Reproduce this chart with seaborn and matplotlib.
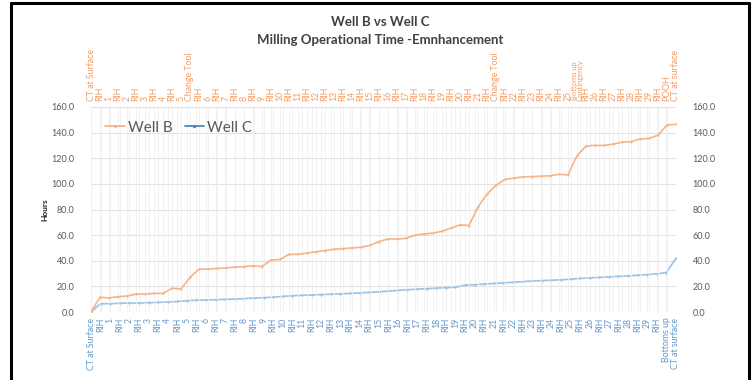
import matplotlib
matplotlib.use("Agg")
import matplotlib.pyplot as plt
from matplotlib.lines import Line2D
import pandas as pd
import seaborn as sns

# Well B operation steps (top axis) and cumulative hours
well_b_steps = [
    "CT at Surface",
    "RIH", "1", "RIH", "2", "RIH", "3", "RIH", "4", "RIH", "5",
    "Change Tool",
    "RIH", "6", "RIH", "7", "RIH", "8", "RIH", "9", "RIH", "10",
    "RIH", "11", "RIH", "12", "RIH", "13", "RIH", "14", "RIH", "15",
    "RIH", "16", "RIH", "17", "RIH", "18", "RIH", "19", "RIH", "20",
    "RIH", "21",
    "RIH", "Change Tool",
    "RIH", "22", "RIH", "23", "RIH", "24", "RIH", "25",
    "Bottoms up\nContingency",
    "RIH", "26", "RIH", "27", "RIH", "28", "RIH", "29",
    "RIH", "POOH", "CT at surface",
]
well_b_hours = [
    0, 11.5, 11, 12, 12.5, 14, 14, 14.5, 14.5, 18.5,
    18, 27, 33.5, 33.5, 34, 34.5, 35, 35.5, 36, 35.5,
    40.5, 41, 45, 45, 46, 47, 48, 49, 49.5, 50,
    50.5, 52, 55, 57, 57, 57.5, 60, 61, 61.5, 63,
    65.5, 68, 67.5, 82, 92, 99, 103.5, 104.5, 105.5, 105.7,
    106, 106.3, 107.5, 107, 122, 129.5, 130, 130, 131, 132.5,
    133, 135, 135.5, 138, 146, 146.5,
]

# Well C operation steps (bottom axis) and cumulative hours
well_c_steps = [
    "CT at Surface",
    "RIH", "1", "RIH", "2", "RIH", "3", "RIH", "4", "RIH", "5",
    "RIH", "6", "RIH", "7", "RIH", "8", "RIH", "9", "RIH", "10",
    "RIH", "11", "RIH", "12", "RIH", "13", "RIH", "14", "RIH", "15",
    "RIH", "16", "RIH", "17", "RIH", "18", "RIH", "19", "RIH", "20",
    "RIH", "21", "RIH", "22", "RIH", "23", "RIH", "24", "RIH", "25",
    "RIH", "26", "RIH", "27", "RIH", "28", "RIH", "29",
    "RIH", "Bottoms up", "CT at surface",
]
well_c_hours = [
    0, 6.5, 6.5, 6.8, 7, 7, 7.3, 7.5, 7.8, 8.2,
    8.8, 9.2, 9.4, 9.6, 9.8, 10.1, 10.5, 10.9, 11.2, 11.6,
    12.2, 12.7, 13.0, 13.3, 13.6, 13.9, 14.2, 14.5, 14.9, 15.3,
    15.8, 16.3, 16.9, 17.4, 17.8, 18.2, 18.6, 19.0, 19.3, 21.0,
    21.3, 21.8, 22.3, 22.7, 23.2, 23.7, 24.2, 24.5, 24.8, 25.1,
    25.6, 26.2, 26.6, 27.0, 27.4, 27.8, 28.2, 28.7, 29.2, 29.8,
    30.8, 42.0,
]

y_ticks = [0, 20, 40, 60, 80, 100, 120, 140, 160]

ORANGE = "#F5B48C"
ORANGE_TXT = "#F29B62"
BLUE = "#9CC2E5"
BLUE_TXT = "#5F97CF"
GREY_TXT = "#595959"

sns.set_theme(style="white")
plt.rcParams["font.family"] = ["Lato", "DejaVu Sans"]

df_b = pd.DataFrame({"step": range(len(well_b_hours)), "hours": well_b_hours})
df_c = pd.DataFrame({"step": range(len(well_c_hours)), "hours": well_c_hours})

fig = plt.figure(figsize=(7.54, 3.8), dpi=100)
fig.patch.set_facecolor("white")

# plot area
ax = fig.add_axes([91 / 754, 1 - 312 / 380, 585 / 754, 205 / 380])
sns.lineplot(data=df_c, x="step", y="hours", ax=ax, color=BLUE, lw=1.2,
             marker="o", markersize=1.6, markeredgewidth=0, label="Well C")
ax.set_xlim(0, len(well_c_hours) - 1)
ax.set_ylim(0, 160)
ax.set_xticks(range(len(well_c_steps)))
ax.set_xticklabels(well_c_steps, rotation=90, fontsize=6.3, color=BLUE_TXT)
ax.set_yticks(y_ticks)
ax.set_yticklabels([f"{v:.1f}" for v in y_ticks], fontsize=6.5, color=GREY_TXT)
ax.tick_params(axis="both", length=0, pad=4)
ax.tick_params(axis="y", labelright=True, pad=12)
ax.set_xlabel("")
ax.set_ylabel("Hours", fontsize=6, fontweight="bold", color="#222222", labelpad=2)
ax.grid(axis="y", color="#e2e2e2", lw=0.8)
ax.grid(axis="x", color="#efefef", lw=0.6)
for s in ax.spines.values():
    s.set_visible(False)

axb = ax.twiny()
sns.lineplot(data=df_b, x="step", y="hours", ax=axb, color=ORANGE, lw=1.2,
             marker="o", markersize=1.6, markeredgewidth=0, label="Well B")
axb.set_xlim(0, len(well_b_hours) - 1)
axb.set_xticks(range(len(well_b_steps)))
axb.set_xticklabels(well_b_steps, rotation=90, fontsize=6.3, color=ORANGE_TXT)
for lbl in axb.get_xticklabels():
    if "\n" in lbl.get_text():
        lbl.set_fontsize(5.4)
        lbl.set_linespacing(0.8)
axb.tick_params(axis="x", length=0, pad=4)
axb.set_xlabel("")
axb.grid(axis="x", color="#efefef", lw=0.6)
for s in axb.spines.values():
    s.set_visible(False)

ax.get_legend().remove()
axb.get_legend().remove()
handles = [
    Line2D([], [], color=ORANGE, lw=1.3, marker="o", markersize=2.5, markeredgewidth=0),
    Line2D([], [], color="#4F86B5", lw=1.3, marker="o", markersize=2.5, markeredgewidth=0),
]
axb.legend(handles, ["Well B", "Well C"], loc="upper left", bbox_to_anchor=(0.0, 1.0),
           ncol=2, frameon=False, fontsize=11, labelcolor=GREY_TXT,
           handlelength=1.3, handletextpad=0.2, columnspacing=0.8)

# titles
fig.text(0.504, 1 - 22 / 380, "Well B vs Well C", ha="center", va="center",
         fontsize=9.5, fontweight="bold", color="#404040")
fig.text(0.504, 1 - 40 / 380, "Milling Operational Time -Emnhancement", ha="center",
         va="center", fontsize=9.5, fontweight="bold", color="#404040")

# frame
fig.add_artist(Line2D([11 / 754, 11 / 754], [0, 1 - 3 / 380], color="black", lw=2.2,
                      transform=fig.transFigure))
fig.add_artist(Line2D([11 / 754, 749 / 754], [1 - 3 / 380, 1 - 3 / 380], color="black",
                      lw=2.2, transform=fig.transFigure))
fig.add_artist(Line2D([749 / 754, 749 / 754], [0, 1 - 3 / 380], color="black", lw=2.2,
                      transform=fig.transFigure))

fig.savefig("out.png", dpi=100, facecolor="white")
